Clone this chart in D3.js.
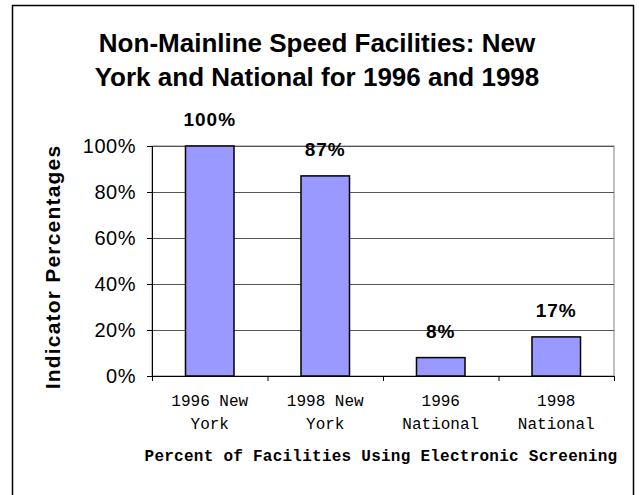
<!DOCTYPE html>
<html><head><meta charset="utf-8">
<script src="https://cdn.jsdelivr.net/npm/d3@7"></script>
<style>body{margin:0;background:#fff}svg{display:block}</style>
</head><body>
<script>
const categories = [["1996 New","York"],["1998 New","York"],["1996","National"],["1998","National"]];
const values = [100, 87, 8, 17];
const valueLabels = ["100%","87%","8%","17%"];
const yTicks = [0,20,40,60,80,100];
const title = ["Non-Mainline Speed Facilities: New","York and National for 1996 and 1998"];
const yTitle = "Indicator Percentages";
const xTitle = "Percent of Facilities Using Electronic Screening";

const W = 639, H = 495;
const sans = "Liberation Sans, Arial, sans-serif";
const mono = "Liberation Mono, Courier New, monospace";
const svg = d3.select("body").append("svg").attr("width", W).attr("height", H);
svg.append("rect").attr("x",12.5).attr("y",5.5).attr("width",621).attr("height",500)
  .attr("fill","#fff").attr("stroke","#000").attr("stroke-width",1.5);

const L = 152, R = 614, T = 146, B = 376;
const x = d3.scaleBand().domain(d3.range(categories.length)).range([L,R]).paddingInner(0.58).paddingOuter(0.29);
const y = d3.scaleLinear().domain([0,100]).range([B,T]);

svg.append("rect").attr("x",L).attr("y",T).attr("width",R-L).attr("height",B-T)
  .attr("fill","none").attr("stroke","#808080").attr("stroke-width",1);
svg.append("g").selectAll("line").data(yTicks.filter(d=>d>0)).join("line")
  .attr("x1",L).attr("x2",R).attr("y1",d=>Math.round(y(d))+0.5).attr("y2",d=>Math.round(y(d))+0.5)
  .attr("stroke","#555").attr("stroke-width",1);

svg.append("g").selectAll("rect").data(values).join("rect")
  .attr("x",(d,i)=>x(i)).attr("y",d=>y(d)).attr("width",x.bandwidth()).attr("height",d=>B-y(d))
  .attr("fill","#9999ff").attr("stroke","#000").attr("stroke-width",1.5);

const yAxis = svg.append("g").attr("transform",`translate(${L},0)`)
  .call(d3.axisLeft(y).tickValues(yTicks).tickFormat(d=>d+"%").tickSize(5).tickPadding(11));
yAxis.select(".domain").attr("stroke","#000");
yAxis.selectAll(".tick line").attr("stroke","#000");
yAxis.selectAll("text").attr("font-family",sans).attr("font-size",20).attr("letter-spacing",0.5).attr("fill","#000");

const xs = d3.scaleLinear().domain([0,categories.length]).range([L,R]);
const xAxis = svg.append("g").attr("transform",`translate(0,${B})`)
  .call(d3.axisBottom(xs).tickValues(d3.range(categories.length+1)).tickFormat("").tickSize(5));
xAxis.select(".domain").attr("stroke","#000");
xAxis.selectAll(".tick line").attr("stroke","#000");

const cl = svg.append("g").selectAll("text").data(categories).join("text")
  .attr("text-anchor","middle").attr("font-family",mono).attr("font-size",16).attr("fill","#000");
cl.append("tspan").attr("x",(d,i)=>x(i)+x.bandwidth()/2).attr("y",406).text(d=>d[0]);
cl.append("tspan").attr("x",(d,i)=>x(i)+x.bandwidth()/2).attr("y",429).text(d=>d[1]);

svg.append("g").selectAll("text").data(values).join("text")
  .attr("x",(d,i)=>x(i)+x.bandwidth()/2).attr("y",d=>y(d)-20).attr("text-anchor","middle")
  .attr("font-family",sans).attr("font-size",19).attr("font-weight","bold").attr("letter-spacing",1)
  .text((d,i)=>valueLabels[i]);

svg.append("g").selectAll("text").data(title).join("text")
  .attr("x",317).attr("y",(d,i)=>52+i*34).attr("text-anchor","middle")
  .attr("font-family",sans).attr("font-size",26).attr("font-weight","bold")
  .text(d=>d);

svg.append("text").attr("transform",`translate(60,267) rotate(-90)`)
  .attr("text-anchor","middle").attr("font-family",sans)
  .attr("font-size",21).attr("font-weight","bold").attr("letter-spacing",1.2).text(yTitle);

svg.append("text").attr("x",381).attr("y",461).attr("text-anchor","middle")
  .attr("font-family",mono).attr("font-size",16)
  .attr("font-weight","bold").attr("letter-spacing",0.25).text(xTitle);
</script>
</body></html>
